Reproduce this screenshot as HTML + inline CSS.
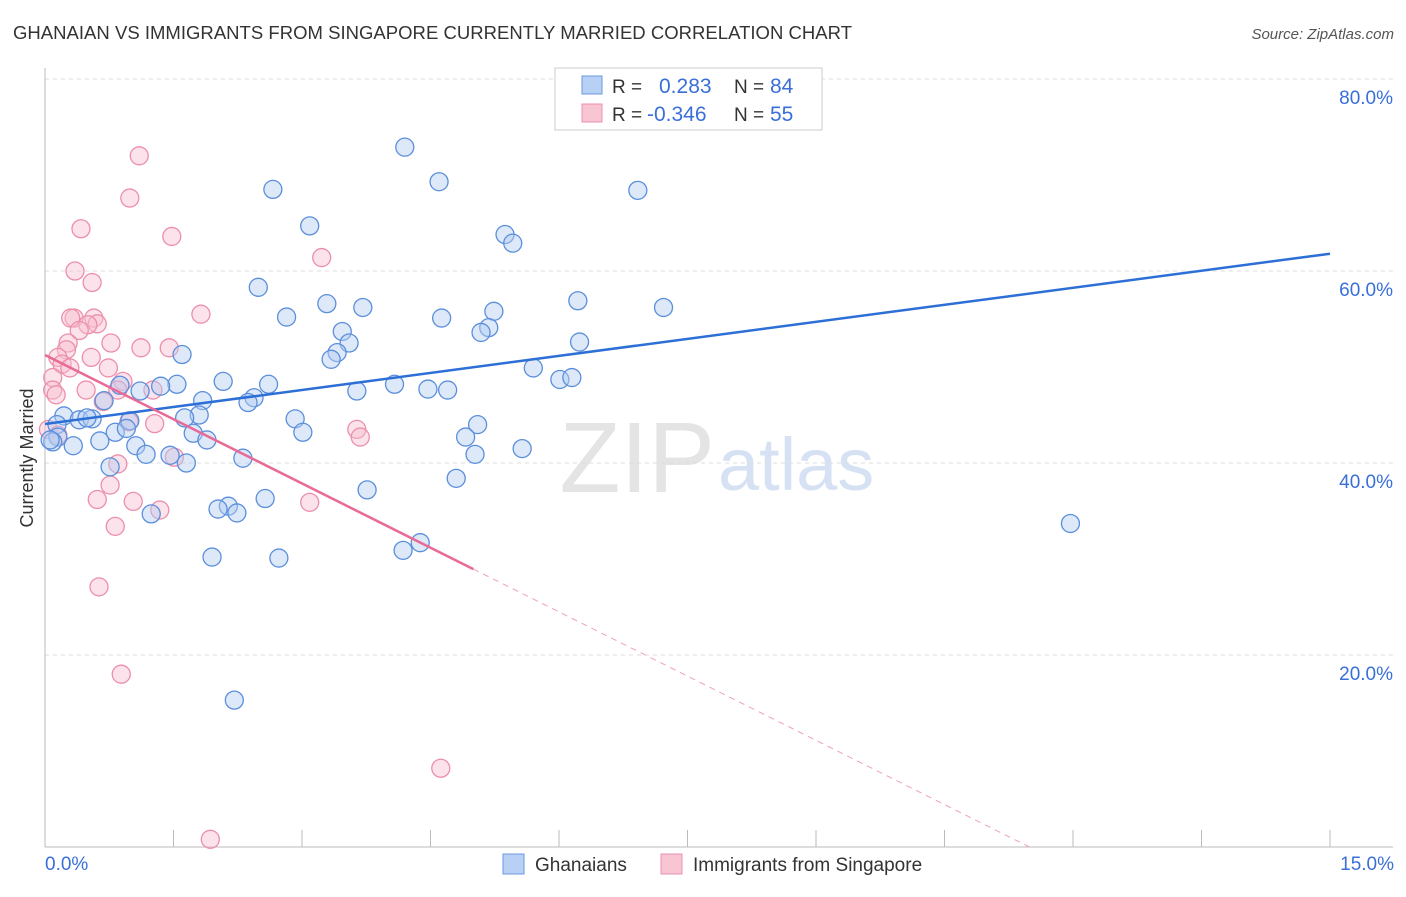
<!DOCTYPE html>
<html><head><meta charset="utf-8"><style>
body{margin:0;background:#fff;font-family:"Liberation Sans",sans-serif;}
svg text{font-family:"Liberation Sans",sans-serif;}
</style></head><body>
<svg id="chart" width="1406" height="892" viewBox="0 0 1406 892" xmlns="http://www.w3.org/2000/svg">
<text x="13" y="39" font-size="18.5" fill="#333" textLength="839">GHANAIAN VS IMMIGRANTS FROM SINGAPORE CURRENTLY MARRIED CORRELATION CHART</text>
<text x="1394" y="39" font-size="15" fill="#555" text-anchor="end" font-style="italic">Source: ZipAtlas.com</text>
<text x="715" y="492" font-size="100" fill="#e4e4e4" text-anchor="end" font-family="Liberation Serif">ZIP</text>
<text x="718" y="490" font-size="74" fill="#d6e2f4">atlas</text>
<g id="grid"></g>
<g id="axes"></g>
<g id="pts"></g>
<g id="lines"></g>
<text transform="translate(33,458) rotate(-90)" font-size="18" fill="#333" text-anchor="middle">Currently Married</text>
<text x="45" y="870" font-size="19" fill="#3a6fd8">0.0%</text>
<text x="1394" y="870" font-size="19" fill="#3a6fd8" text-anchor="end">15.0%</text>
<g>
<rect x="555" y="68" width="267" height="62" fill="#fff" stroke="#ccc"/>
<rect x="582" y="76" width="20" height="18" fill="#b7d0f3" stroke="#6b9ae0"/>
<rect x="582" y="104" width="20" height="18" fill="#f8c5d3" stroke="#ec90ac"/>
<text x="612" y="93" font-size="19" fill="#333">R =</text><text x="659" y="93" font-size="21" fill="#3a6fd8">0.283</text>
<text x="734" y="93" font-size="19" fill="#333">N =</text><text x="770" y="93" font-size="21" fill="#3a6fd8">84</text>
<text x="612" y="121" font-size="19" fill="#333">R =</text><text x="647" y="121" font-size="21" fill="#3a6fd8">-0.346</text>
<text x="734" y="121" font-size="19" fill="#333">N =</text><text x="770" y="121" font-size="21" fill="#3a6fd8">55</text>
</g>
<g>
<rect x="503" y="854" width="21" height="20" fill="#b7d0f3" stroke="#6b9ae0"/>
<text x="535" y="871" font-size="19" fill="#333">Ghanaians</text></g>
<g>
<rect x="661" y="854" width="21" height="20" fill="#f8c5d3" stroke="#ec90ac"/>
<text x="693" y="871" font-size="19" fill="#333">Immigrants from Singapore</text></g>
</svg>
<script>
const yTicks=[20,40,60,80];
const blueX=[4.20,4.60,2.66,6.92,3.09,5.37,5.46,2.49,3.29,3.71,6.22,7.22,5.24,2.82,4.63,5.18,5.09,3.47,3.55,6.24,3.41,3.34,1.60,5.70,6.01,6.15,2.08,2.61,4.08,1.54,1.35,0.875,4.47,4.70,3.64,1.11,1.84,2.44,2.37,0.69,1.80,2.92,1.63,0.99,0.22,0.40,0.55,0.49,0.14,5.05,0.82,0.95,3.01,1.73,0.15,4.91,0.64,1.89,1.06,0.33,0.09,5.57,5.02,1.18,1.46,2.31,1.65,0.76,4.80,3.76,2.57,2.14,2.02,2.24,1.24,11.97,4.38,4.18,1.95,2.73,2.21,0.06];
const blueY=[72.9,69.3,68.5,68.4,64.7,63.8,62.9,58.3,56.6,56.2,56.9,56.2,55.8,55.2,55.1,54.1,53.6,53.7,52.5,52.6,51.5,50.8,51.3,49.9,48.7,48.9,48.5,48.2,48.2,48.2,48.0,48.1,47.7,47.6,47.5,47.5,46.5,46.8,46.3,46.5,45.0,44.6,44.7,44.4,44.9,44.5,44.6,44.7,44.0,44.0,43.2,43.6,43.2,43.1,42.7,42.7,42.3,42.4,41.8,41.8,42.2,41.5,40.9,40.9,40.8,40.5,40.0,39.6,38.4,37.2,36.3,35.5,35.2,34.8,34.7,33.7,31.7,30.9,30.2,30.1,15.3,42.4];
const pinkX=[1.10,0.99,0.42,1.48,3.23,0.35,0.55,1.82,0.34,0.30,0.57,0.61,0.50,0.40,0.27,0.77,1.12,1.45,0.25,0.54,0.15,0.20,0.29,0.74,0.09,0.91,0.09,0.48,0.85,1.26,0.68,0.13,0.98,1.28,3.64,3.68,0.04,0.15,1.51,0.85,0.76,0.61,1.03,1.34,3.09,0.82,0.63,0.89,4.62,1.93];
const pinkY=[72.0,67.6,64.4,63.6,61.4,60.0,58.8,55.5,55.1,55.1,55.1,54.5,54.4,53.8,52.5,52.5,52.0,52.0,51.8,51.0,51.0,50.3,49.9,49.9,48.9,48.5,47.6,47.6,47.6,47.6,46.4,47.1,44.3,44.1,43.5,42.7,43.5,42.9,40.6,39.9,37.7,36.2,36.0,35.1,35.9,33.4,27.1,18.0,8.2,0.8];
const blueTrend=[44.06,61.8];
const pinkTrend=[51.25,-4.46];
const NS="http://www.w3.org/2000/svg";
const X=v=>45+v/15*1285, Y=v=>847-v*9.6;
function mk(t,a,p){const e=document.createElementNS(NS,t);for(const k in a)e.setAttribute(k,a[k]);document.getElementById(p).appendChild(e);return e;}
yTicks.forEach(t=>{
 const g=mk('line',{x1:45,x2:1393,y1:Y(t),y2:Y(t),stroke:'#ddd','stroke-dasharray':'4,4'},'grid');
 
 
 const l=mk('text',{x:1393,y:Y(t)+25,'font-size':19,fill:'#3a6fd8','text-anchor':'end'},'grid');
 l.textContent=t.toFixed(1)+'%';
 
 
});
const xa=mk('line',{x1:45,x2:1393,y1:847,y2:847,stroke:'#bbb'},'axes');


const ya=mk('line',{x1:45,x2:45,y1:68,y2:847,stroke:'#bbb'},'axes');


for(let i=1;i<=10;i++){const t=mk('line',{x1:X(i*1.5),x2:X(i*1.5),y1:830,y2:847,stroke:'#bbb'},'axes');
 
 }
function pts(xs,ys,fill,stroke,name){xs.forEach((x,i)=>{const c=mk('circle',{cx:X(x),cy:Y(ys[i]),r:9,fill:fill,'fill-opacity':0.45,stroke:stroke,'stroke-width':1.3},'pts');
 
 });}
pts(pinkX,pinkY,'#f8bfd0','#ec8fab','point-singapore');
pts(blueX,blueY,'#b3cdf2','#5b8fdc','point-ghanaian');
const bl=mk('line',{x1:X(0),y1:Y(blueTrend[0]),x2:X(15),y2:Y(blueTrend[1]),stroke:'#2c6fd6','stroke-width':2.5},'lines');


const pe=v=>pinkTrend[0]+pinkTrend[1]*v;
const pl=mk('line',{x1:X(0),y1:Y(pe(0)),x2:X(5),y2:Y(pe(5)),stroke:'#e86a96','stroke-width':2.5},'lines');


const xe=-pinkTrend[0]/pinkTrend[1];
const pd=mk('line',{x1:X(5),y1:Y(pe(5)),x2:X(xe),y2:Y(0),stroke:'#eea0bb','stroke-width':1,'stroke-dasharray':'6,5'},'lines');


</script>
</body></html>
